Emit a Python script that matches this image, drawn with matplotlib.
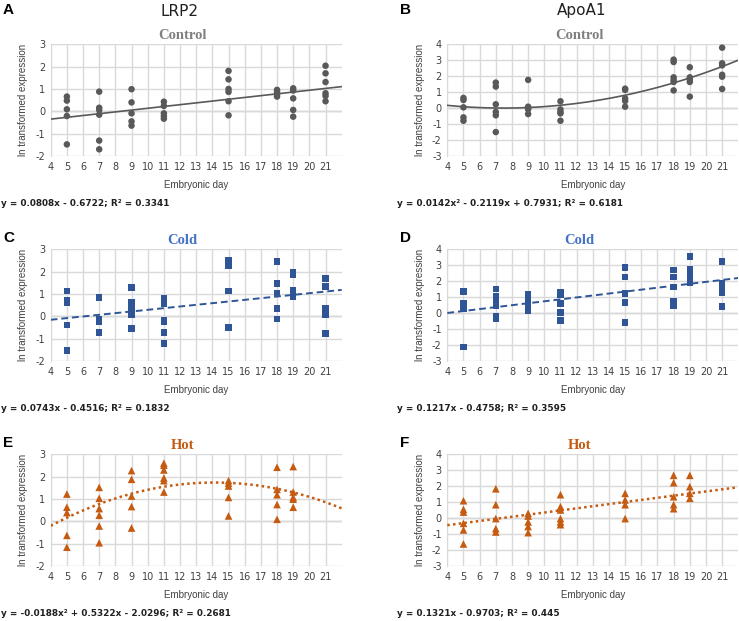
import numpy as np
import matplotlib.pyplot as plt

plt.rcParams['axes.unicode_minus'] = False

# embryonic days sampled
days = [5, 7, 9, 11, 15, 18, 19, 21]
days_hot = [5, 7, 9, 11, 15, 18, 19]

# LRP2, control
lrp2_control = [
    [0.66, 0.48, 0.09, -0.21, -1.48],
    [0.88, 0.16, 0.06, -0.15, -1.31, -1.70],
    [0.99, 0.40, -0.09, -0.45, -0.64],
    [0.43, 0.24, -0.09, -0.21, -0.33],
    [1.81, 1.43, 1.00, 0.87, 0.45, -0.18],
    [0.96, 0.87, 0.75, 0.66],
    [1.03, 0.93, 0.58, 0.06, -0.24],
    [2.04, 1.70, 1.31, 0.81, 0.69, 0.45],
]
# ApoA1, control
apoa1_control = [
    [0.64, 0.51, 0.05, -0.58, -0.79],
    [1.60, 1.35, 0.24, -0.24, -0.45, -1.50],
    [1.77, 0.09, 0.00, -0.08, -0.37],
    [0.43, -0.08, -0.24, -0.33, -0.79],
    [1.22, 1.14, 0.61, 0.45, 0.09],
    [3.04, 2.89, 1.93, 1.76, 1.64, 1.11],
    [2.56, 1.93, 1.80, 1.64, 0.72],
    [3.79, 2.81, 2.68, 2.09, 1.97, 1.20],
]
# LRP2, cold
lrp2_cold = [
    [1.13, 0.73, 0.63, -0.39, -1.54],
    [0.85, -0.13, -0.24, -0.73],
    [1.28, 0.61, 0.43, 0.24, 0.09, -0.55],
    [0.81, 0.69, 0.58, -0.16, -0.24, -0.73, -1.22],
    [2.52, 2.42, 2.27, 1.13, -0.51],
    [2.45, 1.46, 1.04, 0.36, -0.13],
    [1.96, 1.85, 1.18, 1.03, 0.88],
    [1.70, 1.33, 0.36, 0.09, -0.76],
]
# ApoA1, cold
apoa1_cold = [
    [1.35, 0.59, 0.47, 0.26, -2.12],
    [1.51, 1.07, 0.84, 0.45, -0.20, -0.37],
    [1.20, 0.95, 0.72, 0.51, 0.30, 0.13],
    [1.30, 1.14, 0.59, 0.05, -0.47],
    [2.87, 2.25, 1.24, 0.68, -0.58],
    [2.70, 2.27, 1.64, 0.76, 0.45],
    [3.55, 2.75, 2.39, 2.08, 1.88],
    [3.23, 1.85, 1.60, 1.30, 0.43],
]
# LRP2, hot
lrp2_hot = [
    [1.22, 0.63, 0.39, -0.63, -1.16],
    [1.52, 1.03, 0.57, 0.27, -0.21, -0.96],
    [2.27, 1.88, 1.13, 0.66, -0.30],
    [2.60, 2.51, 2.30, 1.94, 1.82, 1.31],
    [1.82, 1.70, 1.58, 1.07, 0.24],
    [2.42, 1.43, 1.19, 0.75, 0.09],
    [2.45, 1.31, 1.07, 0.99, 0.63],
]
# ApoA1, hot
apoa1_hot = [
    [1.09, 0.55, 0.38, -0.33, -0.74, -1.62],
    [1.84, 0.84, -0.03, -0.66, -0.87],
    [0.30, 0.13, -0.24, -0.53, -0.91],
    [1.47, 0.72, 0.51, -0.03, -0.24, -0.41],
    [1.55, 1.14, 0.84, -0.03],
    [2.68, 2.22, 1.34, 0.84, 0.59],
    [2.68, 1.97, 1.55, 1.24],
]

# trendline coefficients (highest power first) and equation labels
fit_a = [0.0808, -0.6722]
fit_b = [0.0142, -0.2119, 0.7931]
fit_c = [0.0743, -0.4516]
fit_d = [0.1217, -0.4758]
fit_e = [-0.0188, 0.5322, -2.0296]
fit_f = [0.1321, -0.9703]
eq_a = "y = 0.0808x - 0.6722; R² = 0.3341"
eq_b = "y = 0.0142x² - 0.2119x + 0.7931; R² = 0.6181"
eq_c = "y = 0.0743x - 0.4516; R² = 0.1832"
eq_d = "y = 0.1217x - 0.4758; R² = 0.3595"
eq_e = "y = -0.0188x² + 0.5322x - 2.0296; R² = 0.2681"
eq_f = "y = 0.1321x - 0.9703; R² = 0.445"

W, H = 739, 621
fig = plt.figure(figsize=(W / 100, H / 100), dpi=100)

GRID = "#d9d9d9"
TXT = "#404040"


def px_axes(left, top, right, bottom):
    return fig.add_axes([left / W, 1 - bottom / H, (right - left) / W, (bottom - top) / H])


def panel(left, top, groups, xs, fit, ylim, mcol, marker, msize, title, tcol, ls, lw, eq):
    ax = px_axes(left, top, left + 291, top + 111.7)
    for d, vals in zip(xs, groups):
        ax.scatter([d] * len(vals), vals, s=msize, marker=marker, color=mcol,
                   edgecolors="none", zorder=3)
    xx = np.linspace(4, 22, 200)
    ax.plot(xx, np.polyval(fit, xx), color=mcol, linestyle=ls, linewidth=lw, zorder=4)
    ax.set_xlim(4, 22)
    ax.set_ylim(*ylim)
    ax.set_xticks(range(4, 22))
    ax.set_yticks(range(ylim[0], ylim[1] + 1))
    ax.grid(True, color=GRID, linewidth=1.0, zorder=0)
    ax.axhline(0, color="#bfbfbf", linewidth=1.0, zorder=1)
    for s in ["top", "right", "bottom"]:
        ax.spines[s].set_visible(False)
    ax.spines["left"].set_color(GRID)
    ax.tick_params(length=0, labelsize=7, colors=TXT, pad=4)
    ax.set_xlabel("Embryonic day", fontsize=7, color=TXT, labelpad=6,
                  family="Liberation Sans")
    ax.set_ylabel("ln transformed expression", fontsize=7, color=TXT, labelpad=5,
                  family="Liberation Sans")
    fig.text((left + 132) / W, 1 - (top - 9) / H, title, ha="center", va="center",
             fontsize=10.5, fontweight="bold", family="Liberation Serif", color=tcol)
    fig.text((left - 50) / W, 1 - (top + 159) / H, eq,
             ha="left", va="center", fontsize=6.4, fontweight="bold", color="#202020")
    return ax


GRAY = "#595959"
BLUE = "#2f5597"
ORANGE = "#c55a11"

panel(50.7, 44.3, lrp2_control, days, fit_a, (-2, 3), GRAY, "o", 22, "Control", "#808080",
      "-", 1.2, eq_a)
panel(447.3, 44.3, apoa1_control, days, fit_b, (-3, 4), GRAY, "o", 22, "Control", "#808080",
      "-", 1.2, eq_b)
panel(50.7, 249.3, lrp2_cold, days, fit_c, (-2, 3), BLUE, "s", 22, "Cold", "#4472c4",
      (0, (3.5, 2)), 1.4, eq_c)
panel(447.3, 249.3, apoa1_cold, days, fit_d, (-3, 4), BLUE, "s", 22, "Cold", "#4472c4",
      (0, (3.5, 2)), 1.4, eq_d)
panel(50.7, 454.3, lrp2_hot, days_hot, fit_e, (-2, 3), ORANGE, "^", 30, "Hot", ORANGE,
      (0, (1, 1.3)), 1.8, eq_e)
panel(447.3, 454.3, apoa1_hot, days_hot, fit_f, (-3, 4), ORANGE, "^", 30, "Hot", ORANGE,
      (0, (1, 1.3)), 1.8, eq_f)

# gene titles and panel letters
fig.text(180 / W, 1 - 11 / H, "LRP2", ha="center", va="center", fontsize=11, color="#202020")
fig.text(582 / W, 1 - 11 / H, "ApoA1", ha="center", va="center", fontsize=11, color="#202020")
letters = ["A", "B", "C", "D", "E", "F"]
letter_x = [3, 400, 3, 400, 3, 400]
letter_y = [10, 10, 238, 238, 443, 443]
for t, lx, ly in zip(letters, letter_x, letter_y):
    fig.text(lx / W, 1 - ly / H, t, ha="left", va="center", fontsize=11,
             fontweight="bold", family="Liberation Sans", color="black")

fig.savefig("out.png", dpi=100)
